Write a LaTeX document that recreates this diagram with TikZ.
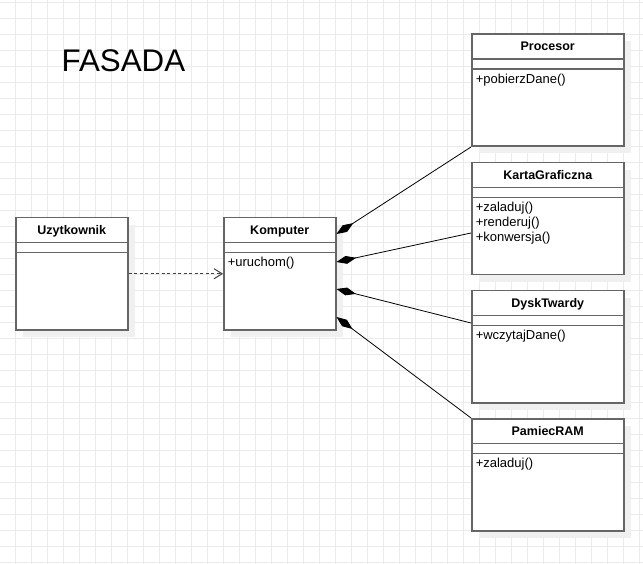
\documentclass[tikz,border=0pt]{standalone}
\usepackage{fontspec}
\setmainfont{Liberation Sans}
\usetikzlibrary{positioning, arrows.meta, shadows}
\tikzset{
gridline/.style={black!8, line width=0.8pt}, % light background grid
classbox/.style={draw=black!60, line width=1.5pt, fill=white, minimum height=112pt, inner sep=0pt, anchor=north west,
  drop shadow={shadow xshift=7pt, shadow yshift=-7pt, fill=black!6, opacity=1}}, % outer frame of a class
classtitle/.style={font=\fontsize{12.5}{15}\selectfont\bfseries, minimum height=25pt, inner sep=0pt, text height=11.5pt, text depth=2.5pt}, % class name
classline/.style={black!60, line width=1.5pt}, % compartment separators
classops/.style={font=\fontsize{13}{15}\selectfont, align=left, inner xsep=4pt, inner ysep=4.5pt, anchor=north west}, % operations
composition/.style={{Diamond[length=20pt, width=8pt]}-, line width=0.8pt}, % filled diamond at the whole
dependency/.style={-{Straight Barb[length=8pt, width=10pt]}, dash pattern=on 3pt off 2.5pt, black!75, line width=1pt}, % dashed open arrow
}
% name, x, y, width, title, operations
\newcommand{\umlclass}[6]{%
  \node[classbox, minimum width=#4pt] (#1) at (#2,#3) {};
  \node[classtitle, minimum width=#4pt, below=0pt of #1.north] (#1-title) {#5};
  \draw[classline] (#1-title.south west) -- (#1-title.south east);
  \coordinate (#1-attr) at ([yshift=-10pt]#1-title.south west);
  \draw[classline] (#1-attr) -- ([yshift=-10pt]#1-title.south east);
  \node[classops] (#1-ops) at (#1-attr) {#6};
}

\begin{document}
\begin{tikzpicture}[x=1pt, y=-1pt]
    \useasboundingbox[fill=white] (0,0) rectangle (643,564);
    % grid
    \foreach \gx in {0,...,39} \draw[gridline] (15.5+16*\gx,0) -- (15.5+16*\gx,564);
    \foreach \gy in {0,...,35} \draw[gridline] (0,2.3+16*\gy) -- (643,2.3+16*\gy);

    \node[font=\fontsize{31.3}{36}\selectfont, anchor=base west, inner sep=0pt] (fasada) at (61.5,72) {FASADA};

    \umlclass{uzytkownik}{15}{217}{112}{Uzytkownik}{}
    \umlclass{komputer}{223}{217}{112}{Komputer}{+uruchom()}
    \umlclass{procesor}{471}{33.5}{152}{Procesor}{+pobierzDane()}
    \umlclass{karta}{471}{162}{152}{KartaGraficzna}{+zaladuj()\\+renderuj()\\+konwersja()}
    \umlclass{dysk}{471}{290}{152}{DyskTwardy}{+wczytajDane()}
    \umlclass{pamiec}{471}{418}{152}{PamiecRAM}{+zaladuj()}

    \draw[dependency] (uzytkownik.east) -- (komputer.west);
    \draw[composition] ([yshift=-17pt]komputer.north east) -- (procesor.south west);
    \draw[composition] ([yshift=-45pt]komputer.north east) -- ([yshift=-71pt]karta.north west);
    \draw[composition] ([yshift=-72pt]komputer.north east) -- ([yshift=-33pt]dysk.north west);
    \draw[composition] ([yshift=-100pt]komputer.north east) -- (pamiec.north west);
\end{tikzpicture}
\end{document}
